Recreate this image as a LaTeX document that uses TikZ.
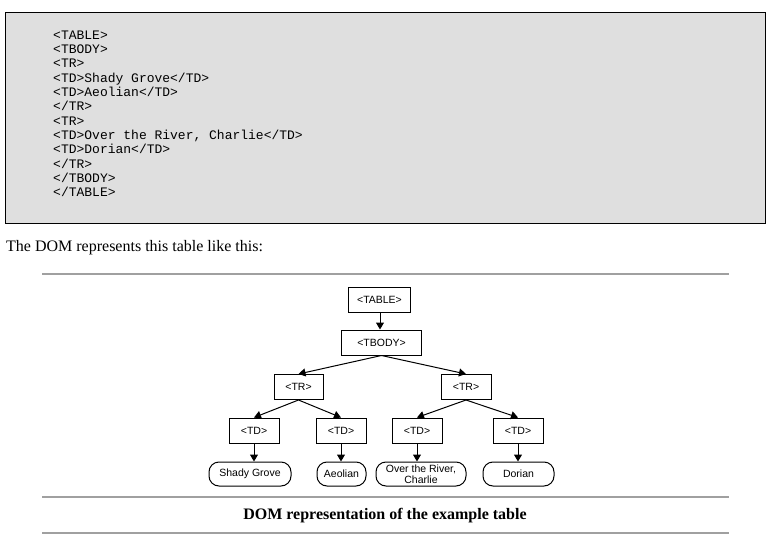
\documentclass[tikz,border=0pt]{standalone}
\usepackage{fontspec}
\setmainfont{Liberation Serif}
\newfontfamily\monof{Liberation Mono}
\newfontfamily\sansf{Liberation Sans}
\usetikzlibrary{arrows.meta}
\definecolor{codebg}{HTML}{DFDFDF}
\definecolor{rulegray}{HTML}{A0A0A0}
\tikzset{
  tagbox/.style={draw, rectangle, line width=1pt, inner sep=0pt, minimum height=25pt, font=\sansf\fontsize{10.5}{12}\selectfont},
  leafbox/.style={draw, rounded corners=10pt, line width=1pt, inner sep=0pt, minimum height=24pt, align=center, font=\sansf\fontsize{10.5}{11}\selectfont},
  link/.style={line width=1pt, -{Triangle[length=7pt,width=8pt]}},
  grayrule/.style={draw=rulegray, line width=1.5pt},
}
\begin{document}
\begin{tikzpicture}[x=1pt,y=-1pt]
\useasboundingbox (0,0) rectangle (769,546);
% code box
\draw[fill=codebg, line width=1pt] (5,12) rectangle (765,223);
\node[anchor=north west, inner sep=0pt, align=left, font=\monof\fontsize{13}{14.33}\selectfont] (code) at (53,30.5)
{<TABLE>\\<TBODY>\\<TR>\\<TD>Shady Grove</TD>\\<TD>Aeolian</TD>\\</TR>\\<TR>\\<TD>Over the River, Charlie</TD>\\<TD>Dorian</TD>\\</TR>\\</TBODY>\\</TABLE>};
% intro text
\node[anchor=west, inner sep=0pt, font=\fontsize{16}{18}\selectfont] (intro) at (6,248) {The DOM represents this table like this:};
% rules
\coordinate (r1a) at (42,274); \coordinate (r1b) at (729,274);
\coordinate (r2a) at (42,497); \coordinate (r2b) at (729,497);
\coordinate (r3a) at (42,533); \coordinate (r3b) at (729,533);
\draw[grayrule] (r1a) -- (r1b);
\draw[grayrule] (r2a) -- (r2b);
\draw[grayrule] (r3a) -- (r3b);
% caption
\node[font=\bfseries\fontsize{16}{18}\selectfont, inner sep=0pt] (cap) at (385,516) {DOM representation of the example table};
% tree
\node[tagbox, minimum width=62pt] (table) at (379.5,300) {<TABLE>};
\node[tagbox, minimum width=80pt] (tbody) at (381.5,342.5) {<TBODY>};
\node[tagbox, minimum width=49pt] (trl) at (298.5,387) {<TR>};
\node[tagbox, minimum width=50pt] (trr) at (466,387) {<TR>};
\node[tagbox, minimum width=50pt] (td1) at (254,430.5) {<TD>};
\node[tagbox, minimum width=50pt] (td2) at (341,430.5) {<TD>};
\node[tagbox, minimum width=50pt] (td3) at (417,430.5) {<TD>};
\node[tagbox, minimum width=50pt] (td4) at (518,430.5) {<TD>};
\node[leafbox, minimum width=82pt] (l1) at (250,474) {Shady Grove};
\node[leafbox, minimum width=49pt] (l2) at (341.5,474) {Aeolian};
\node[leafbox, minimum width=90pt] (l3) at (421,474) {Over the River,\\Charlie};
\node[leafbox, minimum width=71pt] (l4) at (518.5,474) {Dorian};
\draw[link] ([xshift=0.5pt]table.south) -- ([xshift=0.5pt]table.south |- tbody.north);
\draw[link] (tbody.south) -- (trl.north);
\draw[link] (tbody.south) -- (trr.north);
\draw[link] (trl.south) -- (td1.north);
\draw[link] (trl.south) -- (td2.north);
\draw[link] (trr.south) -- (td3.north);
\draw[link] (trr.south) -- (td4.north);
\draw[link] (td1.south) -- (td1.south |- l1.north);
\draw[link] (td2.south) -- (td2.south |- l2.north);
\draw[link] (td3.south) -- (td3.south |- l3.north);
\draw[link] (td4.south) -- (td4.south |- l4.north);
\end{tikzpicture}
\end{document}
